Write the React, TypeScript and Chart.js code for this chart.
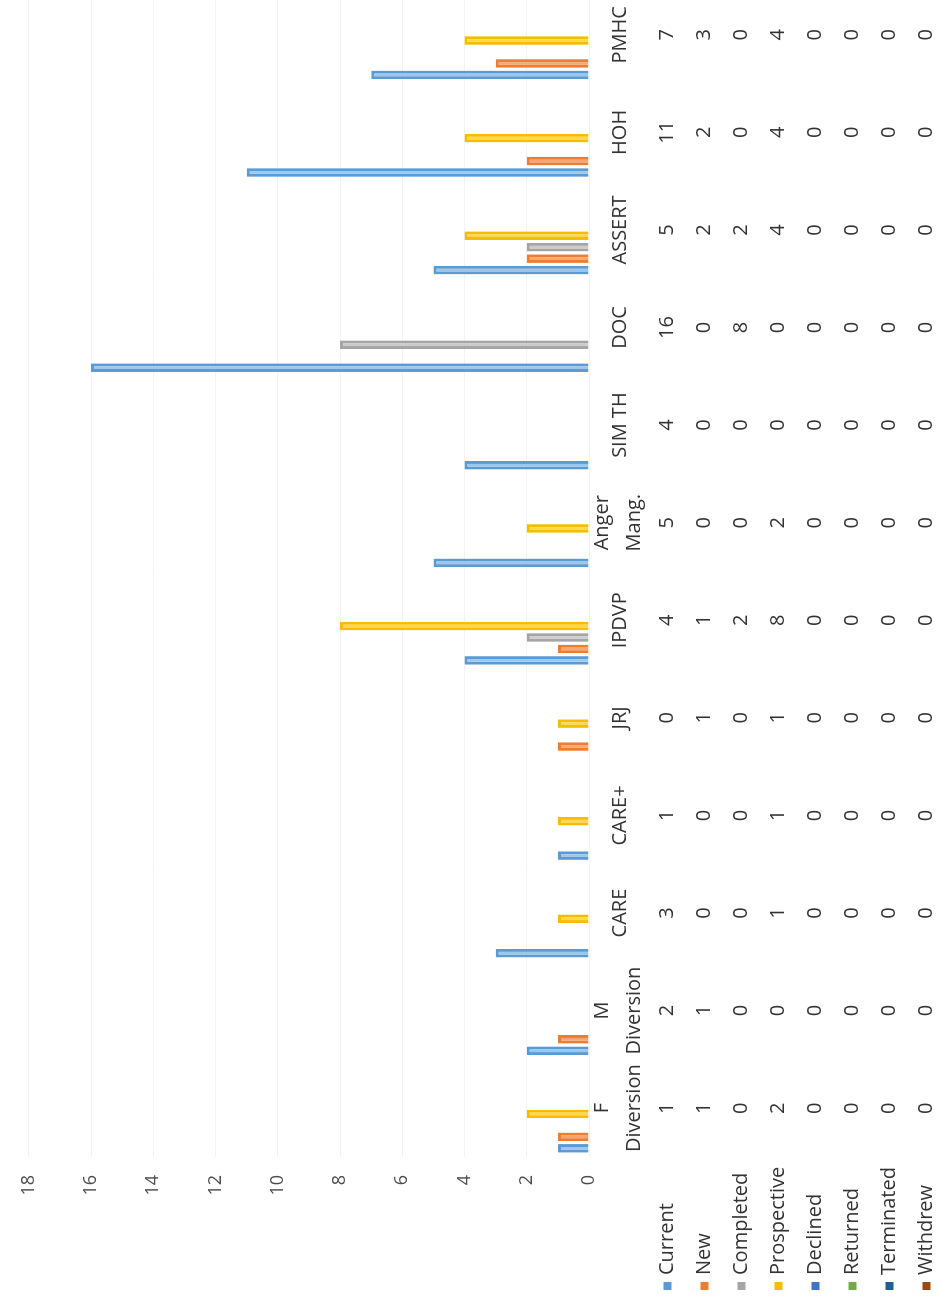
import React, { useEffect, useRef } from "react";
import { Chart, registerables } from "chart.js";

Chart.register(...registerables);

// ---- data ----
const categories: (string | string[])[] = [
  ["F", "Diversion"],
  ["M", "Diversion"],
  "CARE",
  "CARE+",
  "JRJ",
  "IPDVP",
  ["Anger", "Mang."],
  "SIM TH",
  "DOC",
  "ASSERT",
  "HOH",
  "PMHC",
];
const seriesNames = ["Current", "New", "Completed", "Prospective", "Declined", "Returned", "Terminated", "Withdrew"];
const current = [1, 2, 3, 1, 0, 4, 5, 4, 16, 5, 11, 7];
const newCases = [1, 1, 0, 0, 1, 1, 0, 0, 0, 2, 2, 3];
const completed = [0, 0, 0, 0, 0, 2, 0, 0, 8, 2, 0, 0];
const prospective = [2, 0, 1, 1, 1, 8, 2, 0, 0, 4, 4, 4];
const declined = [0, 0, 0, 0, 0, 0, 0, 0, 0, 0, 0, 0];
const returned = [0, 0, 0, 0, 0, 0, 0, 0, 0, 0, 0, 0];
const terminated = [0, 0, 0, 0, 0, 0, 0, 0, 0, 0, 0, 0];
const withdrew = [0, 0, 0, 0, 0, 0, 0, 0, 0, 0, 0, 0];
const yTicks = [0, 2, 4, 6, 8, 10, 12, 14, 16, 18];

// ---- styles ----
const lineColors = ["#5b9bd5", "#ed7d31", "#a5a5a5", "#f5bd00", "#4472c4", "#70ad47", "#255e91", "#9e480e"];
const fillColors = ["#9cc6ea", "#f4a774", "#cccccc", "#ffd84f", "#8ea9dc", "#a3cf87", "#5a8ab8", "#c47a4a"];

const W = 1320; // unrotated width (cropped at 1302)
const H = 940;
const FONT = '"Open Sans", "DejaVu Sans", sans-serif';
const TEXT = "#333333";

const tablePlugin = {
  id: "dataTable",
  afterDraw(chart: any) {
    const { ctx, chartArea } = chart;
    const x = chart.scales.x;
    const top = chartArea.bottom;
    const rowH = 37;
    const row0 = top + 78.5;
    ctx.save();
    ctx.font = `20px ${FONT}`;
    ctx.fillStyle = TEXT;
    ctx.textBaseline = "middle";
    ctx.textAlign = "center";
    categories.forEach((c, i) => {
      const px = x.getPixelForValue(i);
      if (Array.isArray(c)) {
        ctx.fillText(c[0], px, top + 13);
        ctx.fillText(c[1], px, top + 45);
      } else {
        ctx.fillText(c, px, top + 31);
      }
      chart.data.datasets.forEach((ds: any, j: number) => {
        ctx.fillText(String(ds.data[i]), px, row0 + j * rowH);
      });
    });
    ctx.textAlign = "left";
    chart.data.datasets.forEach((ds: any, j: number) => {
      const cy = row0 + j * rowH;
      ctx.fillStyle = lineColors[j];
      ctx.fillRect(12, cy - 4, 8, 8);
      ctx.fillStyle = TEXT;
      ctx.fillText(ds.label, 27, cy);
    });
    ctx.restore();
  },
};

export default function App() {
  const ref = useRef<HTMLCanvasElement | null>(null);
  useEffect(() => {
    if (!ref.current) return;
    const values = [current, newCases, completed, prospective, declined, returned, terminated, withdrew];
    const chart = new Chart(ref.current, {
      type: "bar",
      data: {
        labels: categories as any,
        datasets: seriesNames.map((name, j) => ({
          label: name,
          data: values[j],
          backgroundColor: fillColors[j],
          borderColor: lineColors[j],
          borderWidth: 3,
          borderSkipped: "start",
          categoryPercentage: 0.94,
          barPercentage: 0.75,
        })),
      },
      options: {
        responsive: false,
        animation: false,
        devicePixelRatio: 1,
        layout: { padding: { left: 0, right: 4, top: 18, bottom: 351 } },
        plugins: { legend: { display: false }, tooltip: { enabled: false } },
        scales: {
          x: { display: false },
          y: {
            min: 0,
            max: 18,
            afterBuildTicks: (scale: any) => {
              scale.ticks = yTicks.map((v) => ({ value: v }));
            },
            afterFit: (scale: any) => {
              scale.width = 145;
            },
            ticks: { padding: 18, color: "#4d4d4d", font: { family: FONT, size: 18 } },
            grid: { color: "#f3f3f3", drawTicks: false },
            border: { display: false },
          },
        },
      },
      plugins: [tablePlugin],
    });
    return () => chart.destroy();
  }, []);

  return (
    <div style={{ position: "fixed", left: 0, top: 0, width: 940, height: 1302, overflow: "hidden", background: "#fff" }}>
      <div
        style={{
          position: "absolute",
          left: 0,
          top: 0,
          width: W,
          height: H,
          transformOrigin: "0 0",
          transform: "translate(0px, 1302px) rotate(-90deg)",
        }}
      >
        <canvas ref={ref} width={W} height={H} style={{ display: "block", width: W, height: H }} />
      </div>
    </div>
  );
}
